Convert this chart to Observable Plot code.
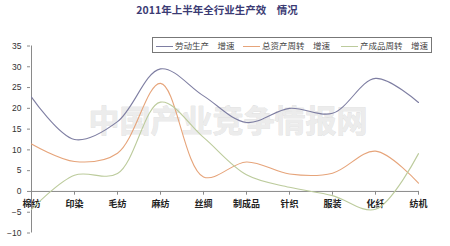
<!DOCTYPE html>
<html>
<head>
<meta charset="utf-8">
<script src="https://cdn.jsdelivr.net/npm/d3@7"></script>
<script src="https://cdn.jsdelivr.net/npm/@observablehq/plot@0.6"></script>
<style>
  body { margin: 0; background: #fff; }
  #wrap { position: relative; width: 450px; height: 246px; overflow: hidden; font-family: "Noto Sans CJK SC", sans-serif; }
  #wrap svg { position: absolute; top: 0; left: 0; }
  #title { position: absolute; top: 2px; left: 0; width: 434px; text-align: center; font-size: 10.5px; font-weight: bold; color: #3b3b74; line-height: 15px; }
  #legend { position: absolute; left: 152px; top: 37px; width: 278px; height: 14px; border: 1px solid #777; background: #fff; }
  .item { position: absolute; top: 0; height: 14px; line-height: 14px; font-size: 8.5px; color: #444; white-space: nowrap; }
  .item i { display: inline-block; width: 17px; height: 0; border-top: 1px solid; vertical-align: middle; margin-right: 2px; }
</style>
</head>
<body>
<div id="wrap">
  <div id="chart"></div>
  <div id="title">2011年上半年全行业生产效　情况</div>
  <div id="legend"></div>
</div>
<script>
// Industry segments along the x axis
const categories = ["棉纺", "印染", "毛纺", "麻纺", "丝绸", "制成品", "针织", "服装", "化纤", "纺机"];

// Growth rates (%) for each segment
const laborProductivity = [22.7, 12.5, 16.8, 29.5, 23.0, 16.6, 20.0, 18.8, 27.2, 21.4];
const assetTurnover     = [11.4, 7.2, 9.2, 26.0, 3.5, 7.1, 4.2, 4.4, 9.7, 2.0];
const inventoryTurnover = [-4.3, 3.9, 4.3, 21.5, 13.0, 4.0, 1.0, -1.0, -4.3, 9.1];

const seriesNames = ["劳动生产　增速", "总资产周转　增速", "产成品周转　增速"];
const seriesColors = ["#7e7ea2", "#e6a47a", "#bccb9c"];
const yTicks = [-10, -5, 0, 5, 10, 15, 20, 25, 30, 35];

const seriesValues = [laborProductivity, assetTurnover, inventoryTurnover];
const rows = seriesNames.flatMap((name, s) =>
  categories.map((cat, i) => ({cat, value: seriesValues[s][i], name}))
);

const chart = Plot.plot({
  width: 450,
  height: 246,
  marginLeft: 30,
  marginRight: 31,
  marginTop: 45.5,
  marginBottom: 13.5,
  style: {background: "#fff", overflow: "visible"},
  x: {type: "point", domain: categories, padding: 0, axis: null},
  y: {domain: [-10, 35], axis: null},
  color: {domain: seriesNames, range: seriesColors},
  marks: [
    // watermark behind the data
    Plot.text(["中国产业竞争情报网"], {
      text: d => d, frameAnchor: "middle", dx: 3, dy: -17,
      fontSize: 31, fontWeight: "bold", fontFamily: "Noto Sans CJK SC",
      fill: "#ececec", stroke: "#d4d4d4", strokeWidth: 0.5
    }),
    // y axis
    Plot.ruleX([categories[0]], {y1: -10, y2: 35, stroke: "#8a8a8a"}),
    Plot.axisY(yTicks, {
      tickSize: 3, tickPadding: 6, fontSize: 8.5, fontFamily: "Liberation Sans",
      color: "#333", stroke: "#8a8a8a", label: null
    }),
    // zero baseline with category ticks and labels
    Plot.ruleY([0], {stroke: "#8a8a8a"}),
    Plot.ruleX(categories.slice(1), {x: d => d, y1: 0, y2: -0.9, stroke: "#8a8a8a"}),
    Plot.text(categories, {
      x: d => d, y: 0, dy: 13, text: d => d,
      fontSize: 9, fontWeight: "bold", fontFamily: "Noto Sans CJK SC", fill: "#222"
    }),
    // series
    Plot.line(rows, {
      x: "cat", y: "value", z: "name", stroke: "name",
      curve: "catmull-rom", strokeWidth: 1.1
    })
  ]
});
document.getElementById("chart").appendChild(chart);

// legend box
const legend = document.getElementById("legend");
const itemLeft = [3, 90, 188];
seriesNames.forEach((name, i) => {
  const item = document.createElement("div");
  item.className = "item";
  item.style.left = itemLeft[i] + "px";
  const sw = document.createElement("i");
  sw.style.borderTopColor = seriesColors[i];
  item.appendChild(sw);
  item.appendChild(document.createTextNode(name));
  legend.appendChild(item);
});
</script>
</body>
</html>
